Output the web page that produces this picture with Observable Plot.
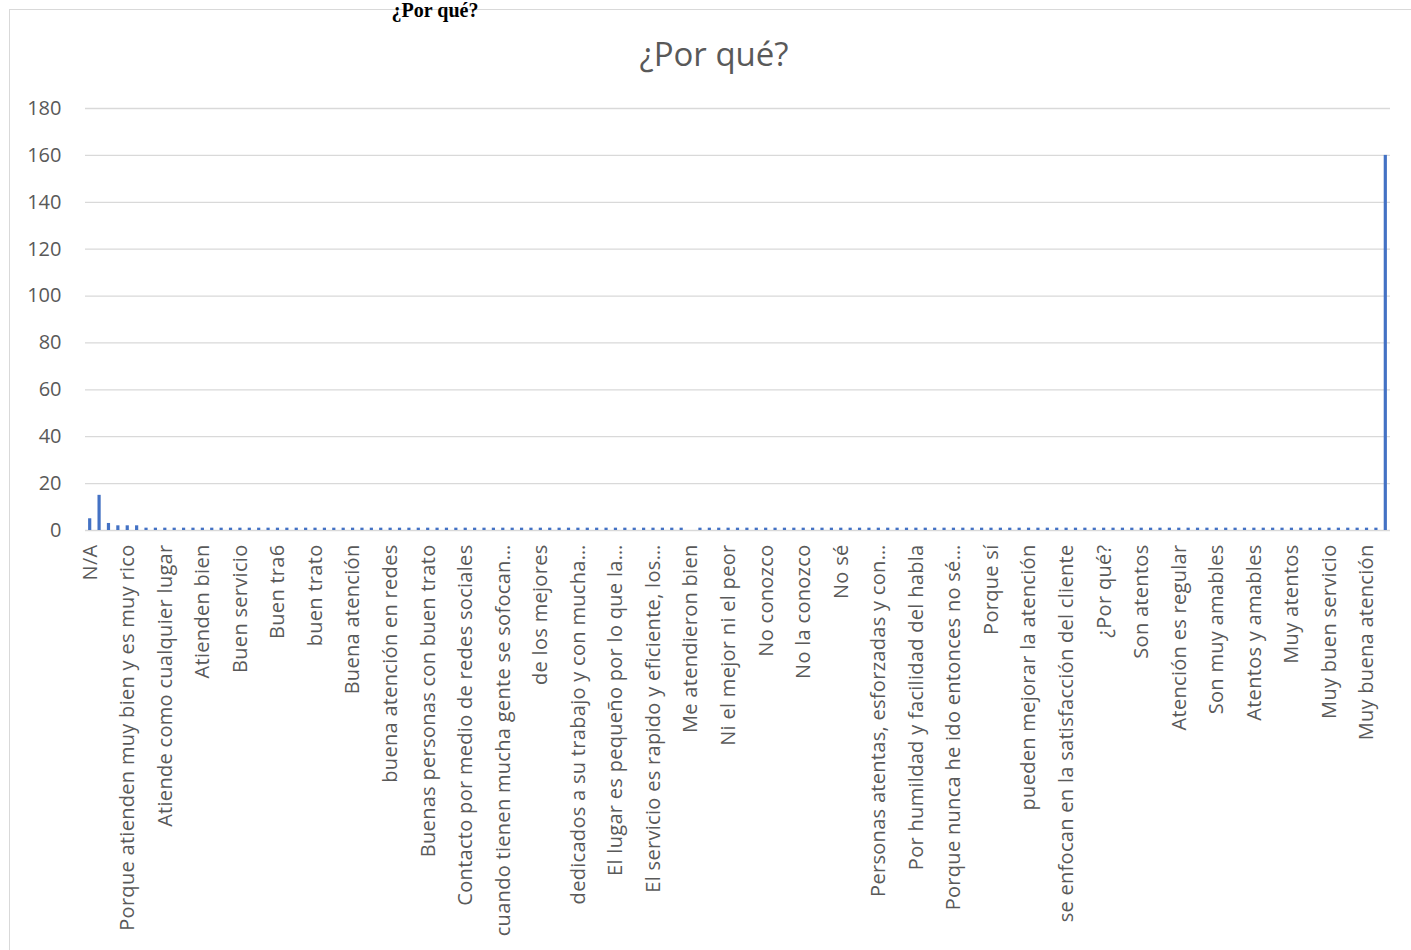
<!DOCTYPE html>
<html>
<head>
<meta charset="utf-8">
<script src="https://cdn.jsdelivr.net/npm/d3@7"></script>
<script src="https://cdn.jsdelivr.net/npm/@observablehq/plot@0.6"></script>
<style>
  html, body { margin: 0; padding: 0; background: #fff; }
  #page { position: relative; width: 1411px; height: 950px; overflow: hidden; font-family: "Open Sans", sans-serif; }
  #doc-heading { position: absolute; left: 375px; width: 120px; top: 0px; text-align: center;
    font-family: "Liberation Serif", serif; font-weight: bold; font-size: 20px; color: #000; line-height: 20px; z-index: 2; }
  #frame { position: absolute; left: 9px; top: 9px; width: 1420px; height: 960px; border: 1px solid #d9d9d9; box-sizing: border-box; }
  #title { position: absolute; left: 0; width: 1428px; top: 31px; text-align: center; font-size: 33px; color: #595959; line-height: 46px; }
  #chart { position: absolute; left: 0; top: 80px; }
  #chart svg g[aria-label="x-axis tick label"] text { letter-spacing: 0.3px; }
</style>
</head>
<body>
<div id="page">
  <div id="frame"></div>
  <div id="doc-heading">¿Por qué?</div>
  <div id="title">¿Por qué?</div>
  <div id="chart"></div>
</div>
<script>
// Answers to "¿Por qué?" — one count per answer, in the sheet's order.
// Only every fourth answer has its text shown on the category axis.
const shownLabels = [
  "N/A",
  "Porque atienden muy bien y es muy rico",
  "Atiende como cualquier lugar",
  "Atienden bien",
  "Buen servicio",
  "Buen tra6",
  "buen trato",
  "Buena atención",
  "buena atención en redes",
  "Buenas personas con buen trato",
  "Contacto por medio de redes sociales",
  "cuando tienen mucha gente se sofocan…",
  "de los mejores",
  "dedicados a su trabajo y con mucha…",
  "El lugar es pequeño por lo que la…",
  "El servicio es rapido y eficiente, los…",
  "Me atendieron bien",
  "Ni el mejor ni el peor",
  "No conozco",
  "No la conozco",
  "No sé",
  "Personas atentas, esforzadas y con…",
  "Por humildad y facilidad del habla",
  "Porque nunca he ido entonces no sé…",
  "Porque sí",
  "pueden mejorar la atención",
  "se enfocan en la satisfacción del cliente",
  "¿Por qué?",
  "Son atentos",
  "Atención es regular",
  "Son muy amables",
  "Atentos y amables",
  "Muy atentos",
  "Muy buen servicio",
  "Muy buena atención"
];
const labelEvery = 4;

// Counts for all 139 answers (index order along the axis).
const counts = [
  5, 15, 3, 2, 2, 2, 1, 1, 1, 1,
  1, 1, 1, 1, 1, 1, 1, 1, 1, 1,
  1, 1, 1, 1, 1, 1, 1, 1, 1, 1,
  1, 1, 1, 1, 1, 1, 1, 1, 1, 1,
  1, 1, 1, 1, 1, 1, 1, 1, 1, 1,
  1, 1, 1, 1, 1, 1, 1, 1, 1, 1,
  1, 1, 1, 1, 0, 1, 1, 1, 1, 1,
  1, 1, 1, 1, 1, 1, 1, 1, 1, 1,
  1, 1, 1, 1, 1, 1, 1, 1, 1, 1,
  1, 1, 1, 1, 1, 1, 1, 1, 1, 1,
  1, 1, 1, 1, 1, 1, 1, 1, 1, 1,
  1, 1, 1, 1, 1, 1, 1, 1, 1, 1,
  1, 1, 1, 1, 1, 1, 1, 1, 1, 1,
  1, 1, 1, 1, 1, 1, 1, 1, 160
];
const yTicks = [0, 20, 40, 60, 80, 100, 120, 140, 160, 180];

const rows = counts.map((value, i) => ({ i, value }));
const indices = d3.range(counts.length);
const labelledIdx = indices.filter(i => i % labelEvery === 0 && i / labelEvery < shownLabels.length);

const textColor = "#595959";
const gridColor = "#d9d9d9";

const chart = Plot.plot({
  width: 1411,
  height: 870,
  marginLeft: 85,
  marginRight: 21,
  marginTop: 28,
  marginBottom: 420,
  style: { fontFamily: "Open Sans, sans-serif", fontSize: "20px", color: textColor, background: "transparent" },
  x: { type: "band", domain: indices, paddingInner: 0.66, paddingOuter: 0.33, align: 0.5 },
  y: { domain: [0, 180] },
  marks: [
    Plot.ruleY(yTicks.filter(t => t > 0), { stroke: gridColor, strokeWidth: 1.3 }),
    Plot.ruleY([0], { stroke: gridColor, strokeWidth: 1.6 }),
    Plot.barY(rows, { x: "i", y: "value", fill: "#4472c4" }),
    Plot.axisY({ ticks: yTicks, tickSize: 0, tickPadding: 24, fill: textColor, label: null }),
    Plot.axisX({
      ticks: labelledIdx,
      tickFormat: i => shownLabels[i / labelEvery],
      tickRotate: -90,
      tickSize: 0,
      tickPadding: 14,
      fill: textColor,
      label: null
    })
  ]
});
document.getElementById("chart").append(chart);
</script>
</body>
</html>
